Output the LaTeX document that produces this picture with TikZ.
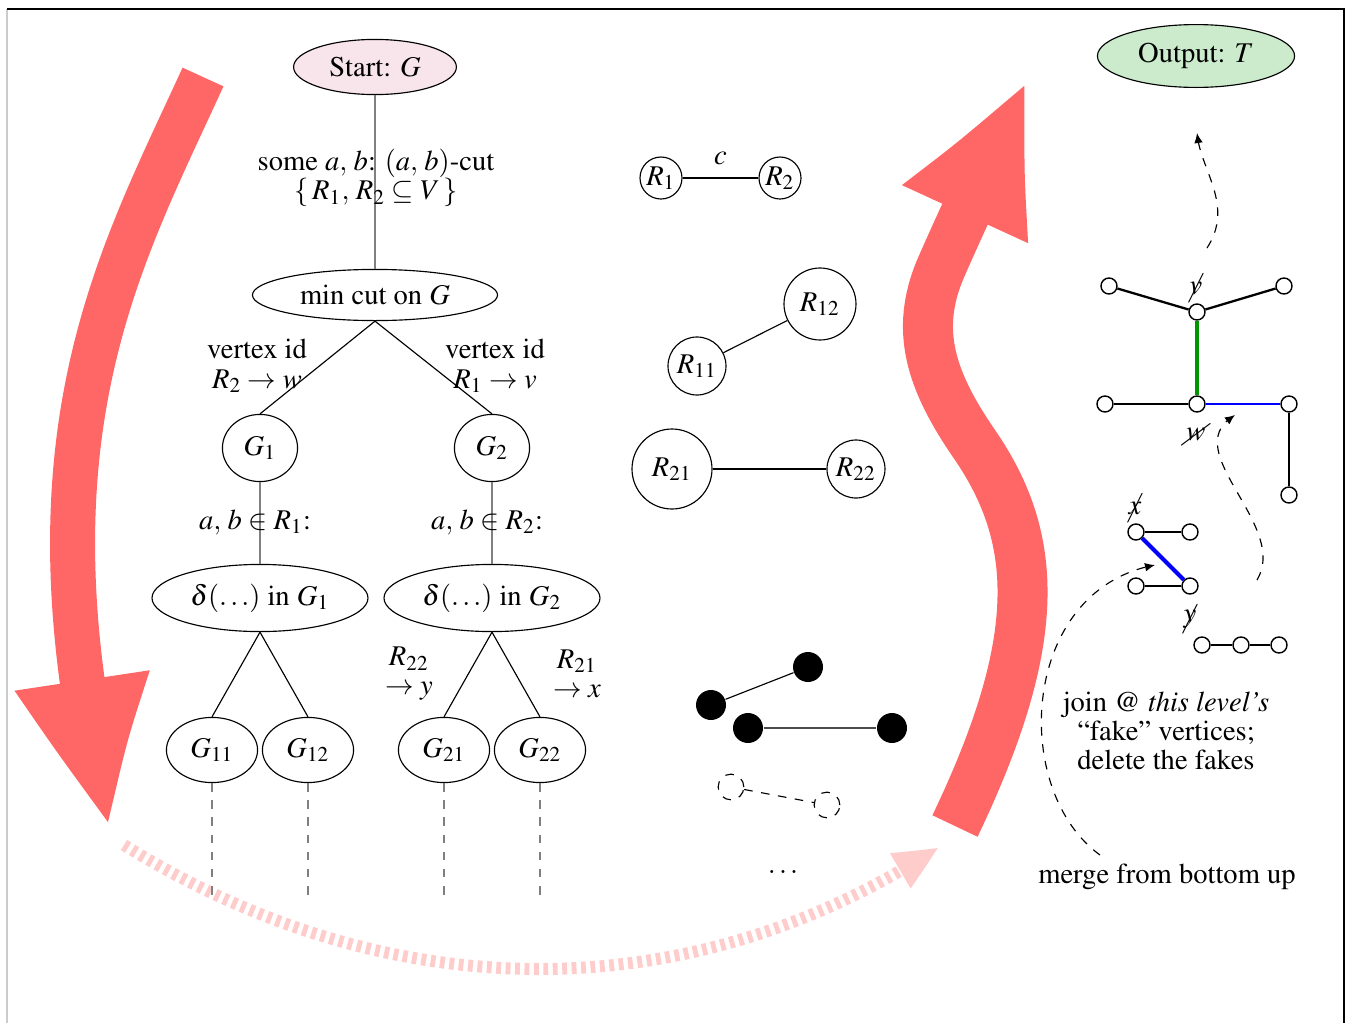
\documentclass[tikz,border=0pt]{standalone}
\usepackage[T1]{fontenc}
\usepackage{mathptmx}
\usepackage{cancel}
\usetikzlibrary{
    shapes.geometric,
    arrows.meta,
    bending,
    positioning
}

\definecolor{startpink}{RGB}{248,228,235}
\definecolor{outgreen}{RGB}{204,235,204}
\definecolor{flowred}{RGB}{255,102,102}
\definecolor{flowpink}{RGB}{255,204,204}
\definecolor{cutgreen}{RGB}{0,150,0}

\tikzset{
    stage/.style={draw, ellipse, inner sep=0pt},
    part/.style={draw, circle, inner sep=0pt},
    vtx/.style={draw, circle, fill=white, inner sep=0pt, minimum size=5.6pt, line width=0.5pt},
    blob/.style={circle, fill=black, inner sep=0pt, minimum size=10.5pt},
    ghost/.style={draw, dashed, circle, inner sep=0pt, minimum size=9pt},
    twoline/.style={align=center, font=\linespread{0.85}\selectfont},
    tedge/.style={line width=0.8pt},
    hint/.style={dashed, -{Latex[length=3.5pt,width=3pt]}}
}

\begin{document}
\begin{tikzpicture}[x=0.35pt, y=-0.35pt]
\useasboundingbox (0,0) rectangle (1348,1023);
\draw[gray!40] (7,1023) -- (7,9);
\draw (7,9) -- (1344,9) -- (1344,1023);

% big flow arrows: down the recursion, along the leaves, back up
\draw[flowred, line width=15.75pt, -{Triangle[length=56pt,width=42pt,bend]}]
    (203,77) .. controls (119,261) and (15,440) .. (111,830);
\draw[flowpink, line width=4.2pt, dash pattern=on 1.7pt off 1.6pt,
      -{Triangle[length=16pt,width=13pt,bend]}]
    (124,845) .. controls (390,1010) and (690,1010) .. (939,847);
\draw[flowred, line width=17.5pt, -{Triangle[length=56pt,width=42pt,bend]}]
    (955,826) .. controls (1043,642) and (1040,540) .. (975,445)
    .. controls (930,380) and (915,330) .. (940,270)
    .. controls (955,235) and (990,160) .. (1028,78);

% recursion tree
\node[stage, fill=startpink, minimum width=57pt, minimum height=19.3pt] (start) at (375,67) {Start: $G$};
\node[stage, minimum width=85.8pt, minimum height=17.9pt] (mincut) at (375,295) {min cut on $G$};
\node[stage, minimum width=26.3pt, minimum height=23.5pt] (g1) at (260,448) {$G_1$};
\node[stage, minimum width=26.3pt, minimum height=23.5pt] (g2) at (492,448) {$G_2$};
\node[stage, minimum width=75.6pt, minimum height=23.5pt] (d1) at (260,598) {$\delta(\dots)$ in $G_1$};
\node[stage, minimum width=75.6pt, minimum height=23.5pt] (d2) at (492,598) {$\delta(\dots)$ in $G_2$};
\node[stage, minimum width=31.9pt, minimum height=22.8pt] (g11) at (212,750) {$G_{11}$};
\node[stage, minimum width=31.9pt, minimum height=22.8pt] (g12) at (308,750) {$G_{12}$};
\node[stage, minimum width=31.9pt, minimum height=22.8pt] (g21) at (444,750) {$G_{21}$};
\node[stage, minimum width=31.9pt, minimum height=22.8pt] (g22) at (540,750) {$G_{22}$};
\coordinate (leafend) at (0,897);

\draw[gray] (start) -- (mincut);
\draw (mincut.south) -- (g1.north);
\draw (mincut.south) -- (g2.north);
\draw[gray] (g1) -- (d1);
\draw[gray] (g2) -- (d2);
\draw (d1.south) -- (g11.north);
\draw (d1.south) -- (g12.north);
\draw (d2.south) -- (g21.north);
\draw (d2.south) -- (g22.north);
\foreach \leaf in {g11,g12,g21,g22}
    \draw[gray, dashed] (\leaf.south) -- (\leaf.south |- leafend);

\node[twoline] at (376,178) {some $a,\,b$: $(a,\,b)$-cut\\$\{\,R_1,\,R_2 \subseteq V\,\}$};
\node[twoline] at (257,366) {vertex id\\$R_2 \rightarrow w$};
\node[twoline] at (495,366) {vertex id\\$R_1 \rightarrow v$};
\node at (255,522) {$a,\,b \in R_1$:};
\node at (487,522) {$a,\,b \in R_2$:};
\node[twoline] at (409,674) {$R_{22}$\\$\rightarrow y$};
\node[twoline] at (577,674) {$R_{21}$\\$\rightarrow x$};

% parts of the cut at each level
\node[part, minimum size=14.7pt] (r1) at (661,178) {$R_1$};
\node[part, minimum size=14.7pt] (r2) at (780,178) {$R_2$};
\node[part, minimum size=25.2pt] (r12) at (820,304) {$R_{12}$};
\node[part, minimum size=20.3pt] (r11) at (697,366) {$R_{11}$};
\node[part, minimum size=28pt] (r21) at (672,469) {$R_{21}$};
\node[part, minimum size=20.3pt] (r22) at (856,469) {$R_{22}$};
\draw (r1) -- node[above=1pt] {$c$} (r2);
\draw (r11) -- (r12);
\draw (r21) -- (r22);

\node[blob] (b1) at (711,705) {};
\node[blob] (b2) at (808,667) {};
\node[blob] (b3) at (748,728) {};
\node[blob] (b4) at (892,728) {};
\draw (b1) -- (b2);
\draw[black!70] (b3) -- (b4);
\node[ghost] (h1) at (731,787) {};
\node[ghost] (h2) at (827,805) {};
\draw[dashed] (h1) -- (h2);
\node at (783,872) {$\dots$};

% merged tree
\node[stage, fill=outgreen, minimum width=69pt, minimum height=22pt] (output) at (1196,56) {Output: $T$};

\node[vtx] (tl) at (1109,286) {};
\node[vtx] (v) at (1197,312) {};
\node[vtx] (tr) at (1284,286) {};
\node[vtx] (ml) at (1105,404) {};
\node[vtx] (w) at (1197,404) {};
\node[vtx] (mr) at (1289,404) {};
\node[vtx] (br) at (1289,495) {};
\draw[tedge] (tl) -- (v) -- (tr);
\draw[tedge] (ml) -- (w);
\draw[tedge] (mr) -- (br);
\draw[cutgreen, line width=1.4pt] (v) -- (w);
\draw[blue, line width=0.8pt] (w) -- (mr);
\node at (1196,285) {$\cancel{v}$};
\node at (1196,433) {$\cancel{w}$};

\node[vtx] (x) at (1136,532) {};
\node[vtx] (xr) at (1190,532) {};
\node[vtx] (yl) at (1136,586) {};
\node[vtx] (y) at (1190,586) {};
\draw[tedge] (x) -- (xr);
\draw[tedge] (yl) -- (y);
\draw[blue, line width=1.4pt] (x) -- (y);
\node at (1135,505) {$\cancel{x}$};
\node at (1190,617) {$\cancel{y}$};

\node[vtx] (c1) at (1202,645) {};
\node[vtx] (c2) at (1241,645) {};
\node[vtx] (c3) at (1279,645) {};
\draw[tedge] (c1) -- (c2) -- (c3);

\node[twoline] (join) at (1166,731) {join @ \textit{this level's}\\``fake'' vertices;\\delete the fakes};
\node (merge) at (1167,877) {merge from bottom up};

\coordinate (up1) at (1207,248);
\coordinate (up1end) at (1197,133);
\coordinate (up2) at (1257,580);
\coordinate (up2end) at (1235,415);
\coordinate (up3) at (1100,855);
\coordinate (up3end) at (1155,565);
\draw[hint] (up1) .. controls (1235,205) and (1200,170) .. (up1end);
\draw[hint] (up2) .. controls (1290,525) and (1175,450) .. (up2end);
\draw[hint] (up3) .. controls (1010,790) and (1020,590) .. (up3end);
\end{tikzpicture}
\end{document}
